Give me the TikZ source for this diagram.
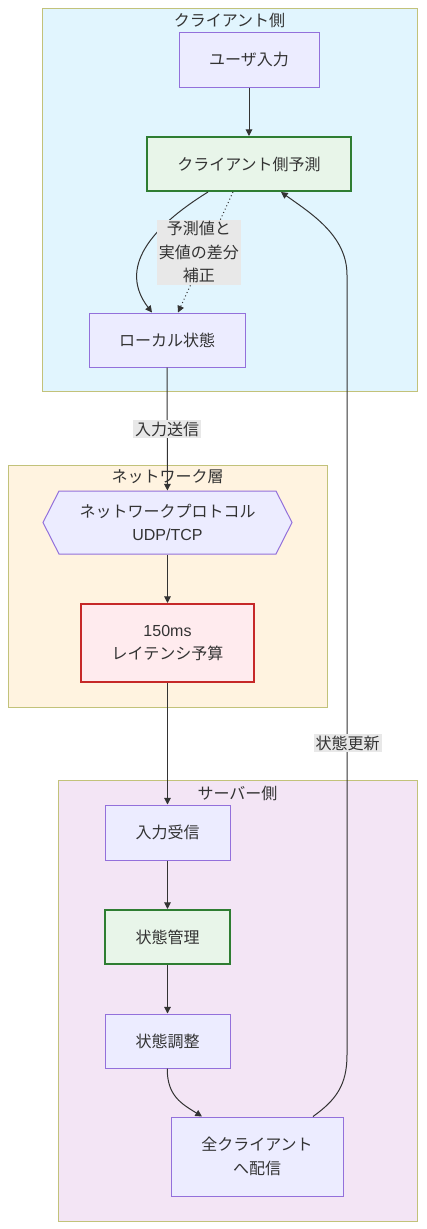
\documentclass[tikz,border=0pt]{standalone}
\usepackage{fontspec}
\setmainfont{Liberation Sans}
\newfontfamily\jp{Noto Sans CJK JP}
\usetikzlibrary{calc,arrows.meta}
\definecolor{txt}{HTML}{333333}
\definecolor{nodefill}{HTML}{ECECFF}
\definecolor{nodeline}{HTML}{9370DB}
\definecolor{clusterline}{HTML}{C2C27A}
\definecolor{clientbg}{HTML}{E1F5FE}
\definecolor{netbg}{HTML}{FFF3E0}
\definecolor{serverbg}{HTML}{F3E5F5}
\definecolor{okfill}{HTML}{E8F5E9}
\definecolor{okline}{HTML}{2E7D32}
\definecolor{warnfill}{HTML}{FFEBEE}
\definecolor{warnline}{HTML}{C62828}
\definecolor{labelbg}{HTML}{E8E8E8}
\tikzset{
	box/.style={draw=nodeline, fill=nodefill, line width=0.75pt, text=txt, align=center, font=\fontsize{12}{17.5}\selectfont, inner sep=0pt},
	okbox/.style={box, draw=okline, fill=okfill, line width=1.5pt},
	warnbox/.style={box, draw=warnline, fill=warnfill, line width=1.5pt},
	cluster/.style={draw=clusterline, line width=0.75pt},
	ctitle/.style={text=txt, font=\jp\fontsize{12}{14}\selectfont, inner sep=0pt},
	elabel/.style={fill=labelbg, text=txt, align=center, font=\jp\fontsize{12}{17.5}\selectfont, inner sep=1.5pt},
	flow/.style={draw=txt, line width=0.75pt, -{Triangle[length=5pt,width=5pt]}},
}
\begin{document}
\begin{tikzpicture}[x=0.75pt, y=-0.75pt]
			%%%%% START %%%%%
			\useasboundingbox[fill=white] (0, 0) rectangle (426, 1229);
			
			% clusters
			\draw[cluster, fill=clientbg] (42, 8) rectangle (417, 391);
			\node[ctitle] (clienttitle) at (229.5, 20) {クライアント側};
			\draw[cluster, fill=netbg] (8, 465) rectangle (327, 707);
			\node[ctitle] (nettitle) at (167.5, 477) {ネットワーク層};
			\draw[cluster, fill=serverbg] (58, 780) rectangle (417, 1221);
			\node[ctitle] (servertitle) at (237.5, 793) {サーバー側};
			
			% client side
			\node[box, minimum width=105pt, minimum height=41.25pt] (user) at (249, 59.5) {\jp ユーザ入力};
			\node[okbox, minimum width=153pt, minimum height=40.5pt] (predict) at (249, 164) {\jp クライアント側予測};
			\node[box, minimum width=117pt, minimum height=40.5pt] (local) at (167, 340) {\jp ローカル状態};
			
			% network
			\draw[draw=nodeline, fill=nodefill, line width=0.75pt] (43, 522.5) -- (59, 491) -- (276, 491) -- (292, 522.5) -- (276, 554) -- (59, 554) -- cycle;
			\node[box, draw=none, fill=none, minimum width=186.75pt, minimum height=47.25pt] (proto) at (167.5, 522.5) {{\jp ネットワークプロトコル}\\UDP/TCP};
			\node[warnbox, minimum width=129.75pt, minimum height=58.5pt] (latency) at (167.5, 643) {150ms\\{\jp レイテンシ予算}};
			
			% server side
			\node[box, minimum width=93.75pt, minimum height=41.25pt] (recv) at (167.5, 832.5) {\jp 入力受信};
			\node[okbox, minimum width=93.75pt, minimum height=40.5pt] (manage) at (167.5, 937) {\jp 状態管理};
			\node[box, minimum width=93.75pt, minimum height=40.5pt] (adjust) at (167.5, 1041) {\jp 状態調整};
			\node[box, minimum width=129pt, minimum height=59.25pt] (broadcast) at (257, 1156.5) {{\jp 全クライアント}\\{\jp へ配信}};
			
			% edges
			\draw[flow] (user) -- (predict);
			\draw[flow] ($(predict.south)+(-41, 0)$) .. controls (150, 228) and (118, 268) .. ($(local.north)+(-15, 0)$);
			\draw[flow, dotted] ($(predict.south)+(-16, 0)$) -- node[elabel, xshift=-5pt] (fixlabel) {予測値と\\実値の差分\\補正} ($(local.north)+(11, 0)$);
			\draw[flow] (local) -- node[elabel, pos=0.5] (sendlabel) {入力送信} (proto);
			\draw[flow] (proto) -- (latency);
			\draw[flow] (latency) -- (recv);
			\draw[flow] (recv) -- (manage);
			\draw[flow] (manage) -- (adjust);
			\draw[flow] (adjust) .. controls (167, 1096) and (182, 1104) .. ($(broadcast.north)+(-55, 0)$);
			\draw[flow] ($(broadcast.north)+(56, 0)$) .. controls (336, 1100) and (347, 1085) .. (347, 1055) -- (347, 275) .. controls (347, 236) and (312, 214) .. ($(predict.south)+(32, 0)$);
			\node[elabel] (updatelabel) at (347.5, 743) {状態更新};
			
			%%%%% END %%%%%
\end{tikzpicture}
\end{document}
